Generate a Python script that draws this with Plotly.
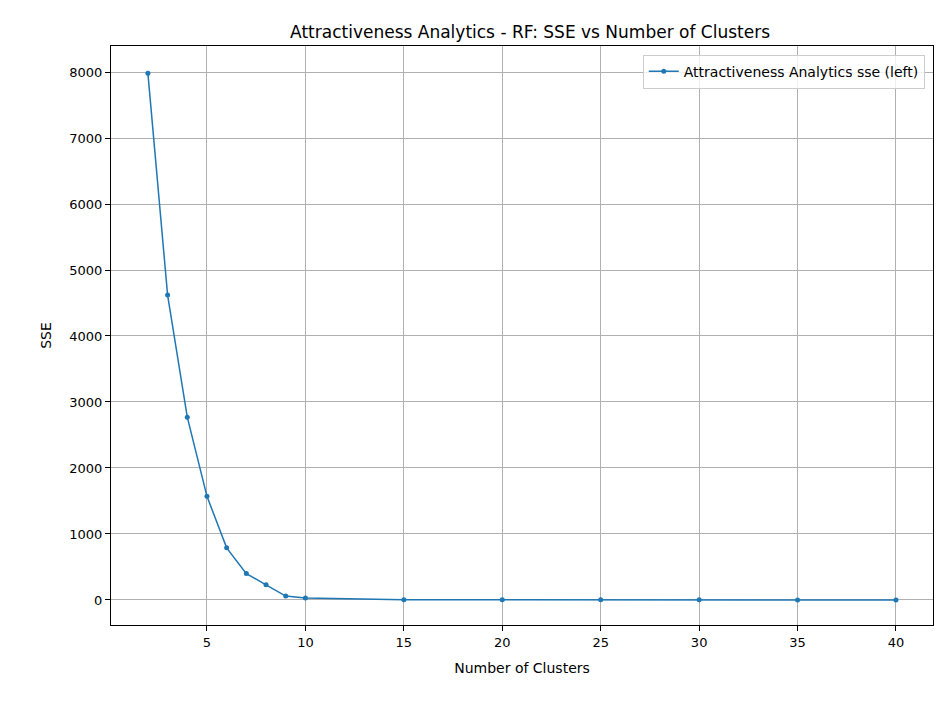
import plotly.graph_objects as go

clusters = [2, 3, 4, 5, 6, 7, 8, 9, 10, 15, 20, 25, 30, 35, 40]
sse = [7980, 4620, 2770, 1570, 790, 400, 230, 60, 30, 5, 3, 2, 2, 1, 1]

fig = go.Figure()
fig.add_trace(go.Scatter(
    x=clusters, y=sse, mode='lines+markers',
    name='Attractiveness Analytics sse (left)',
    line=dict(color='#1f77b4', width=1.5),
    marker=dict(size=5, color='#1f77b4')))

axis_style = dict(showgrid=True, gridcolor='#b0b0b0', gridwidth=1,
                  showline=True, linecolor='black', linewidth=1, mirror=True,
                  ticks='outside', ticklen=5, tickcolor='black', zeroline=False,
                  tickfont=dict(size=13, color='black'))

fig.update_layout(
    width=951, height=704,
    paper_bgcolor='white', plot_bgcolor='white',
    font=dict(family='DejaVu Sans', color='black'),
    title=dict(text='Attractiveness Analytics - RF: SSE vs Number of Clusters',
               x=0.549, xanchor='center', y=0.975, font=dict(size=17)),
    margin=dict(l=103, r=26, t=38, b=87),
    xaxis=dict(title=dict(text='Number of Clusters', font=dict(size=14), standoff=14),
               range=[0.125, 41.88], tickvals=[5, 10, 15, 20, 25, 30, 35, 40], **axis_style),
    yaxis=dict(title=dict(text='SSE', font=dict(size=14), standoff=14),
               range=[-379, 8394], tickvals=list(range(0, 8001, 1000)), **axis_style),
    legend=dict(x=0.99, y=0.985, xanchor='right', yanchor='top',
                bgcolor='rgba(255,255,255,0.8)', bordercolor='#cccccc', borderwidth=1,
                font=dict(size=14)),
    showlegend=True,
)

fig.write_html("out.html")
